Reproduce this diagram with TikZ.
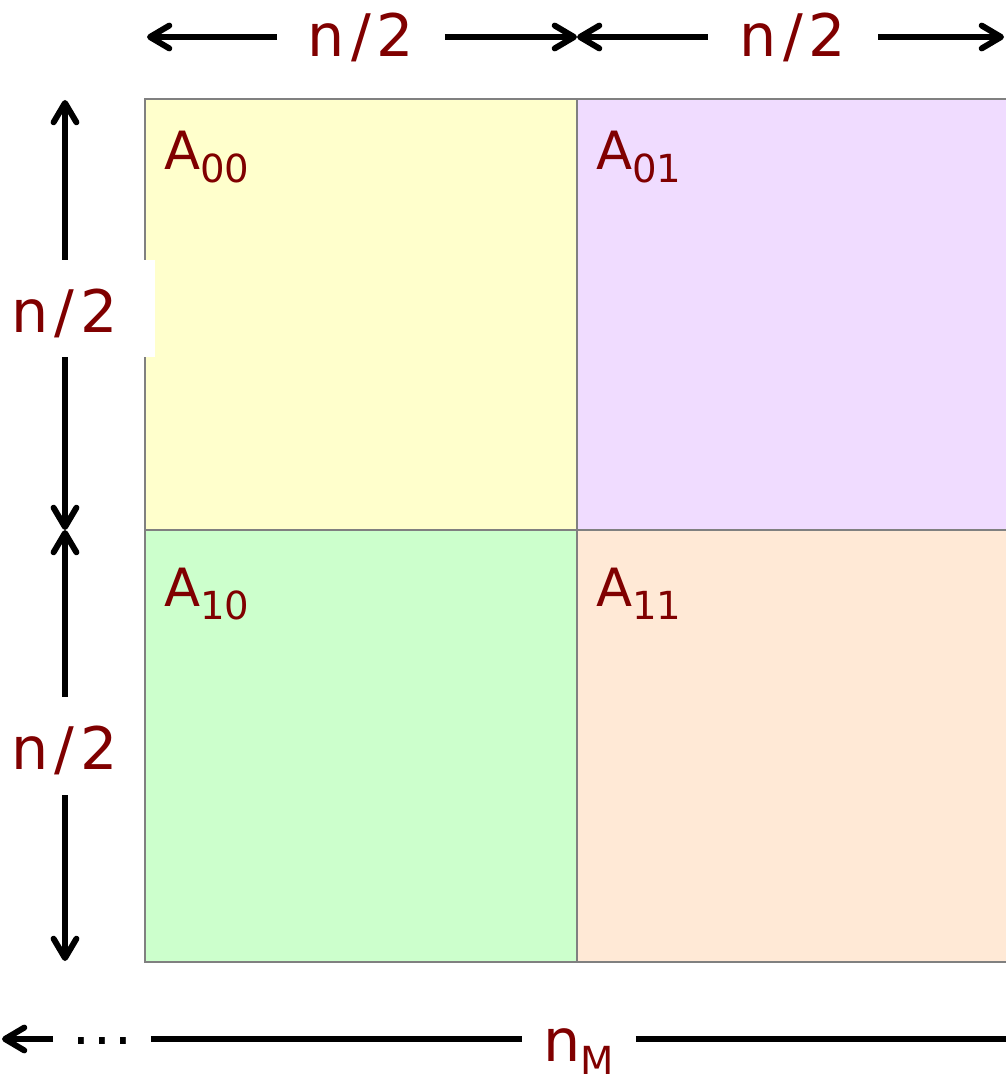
\documentclass[tikz,border=0pt]{standalone}
\usepackage{fontspec}
\setmainfont{DejaVu Sans}
\newfontfamily\dimfont[LetterSpace=10]{DejaVu Sans}
\usetikzlibrary{arrows.meta,positioning,calc}
\definecolor{labelred}{RGB}{128,0,0}
\definecolor{gridgray}{RGB}{128,128,128}
\definecolor{cellyellow}{RGB}{255,255,204}
\definecolor{cellpurple}{RGB}{240,220,255}
\definecolor{cellgreen}{RGB}{204,255,204}
\definecolor{cellorange}{RGB}{255,233,214}
\newcommand{\blocksub}[1]{\raisebox{-7.4pt}{\fontsize{22}{22}\selectfont #1}}

\begin{document}
\begin{tikzpicture}[
  x=0.02cm, y=-0.02cm,
  cell/.style={draw=gridgray, line width=1.1pt, inner sep=0pt, outer sep=0pt, minimum width=8.64cm, minimum height=8.63cm},
  blocklabel/.style={text=labelred, inner sep=0pt, anchor=base west, font=\fontsize{30}{30}\selectfont},
  dimlabel/.style={text=labelred, fill=white, inner sep=0pt, text height=27pt, text depth=0pt, font=\fontsize{33.4}{33.4}\dimfont},
  dimline/.style={line width=3.4pt},
  arr/.style={dimline, -{Straight Barb[length=11pt, width=13pt, round]}}
]
\useasboundingbox (0,0) rectangle (1006,1074);
% the four blocks
\node[cell, fill=cellyellow, anchor=north west] (a00) at (145,99) {};
\node[cell, fill=cellpurple, right=0pt of a00] (a01) {};
\node[cell, fill=cellgreen, below=0pt of a00] (a10) {};
\node[cell, fill=cellorange, right=0pt of a10] (a11) {};
\node[blocklabel] (l00) at ($(a00.north west)+(19,71)$) {A\blocksub{00}};
\node[blocklabel] (l01) at ($(a01.north west)+(19,71)$) {A\blocksub{01}};
\node[blocklabel] (l10) at ($(a10.north west)+(19,76)$) {A\blocksub{10}};
\node[blocklabel] (l11) at ($(a11.north west)+(19,76)$) {A\blocksub{11}};

% top widths
\coordinate (t0) at (147,37);
\coordinate (t1) at (577,37);
\coordinate (t2) at (1004,37);
\node[dimlabel, minimum width=3.34cm, yshift=2.5pt] (wleft) at (361,37) {n/2};
\node[dimlabel, minimum width=3.4cm, yshift=2.5pt] (wright) at (793,37) {n/2};
\draw[arr] (wleft.west |- t0) -- (t0);
\draw[arr] (wleft.east |- t1) -- (t1);
\draw[arr] (wright.west |- t1) -- (t1);
\draw[arr] (wright.east |- t2) -- (t2);

% left heights
\coordinate (v0) at (65,100);
\coordinate (v1) at (65,530);
\coordinate (v2) at (65,961);
\node[dimlabel, minimum width=3.6cm, minimum height=1.94cm] (htop) at (65,308.5) {n/2};
\node[dimlabel, minimum width=2.4cm, minimum height=1.96cm] (hbot) at (65,746) {n/2};
\draw[arr] (htop.north) -- (v0);
\draw[arr] (htop.south) -- (v1);
\draw[arr] (hbot.north) -- (v1);
\draw[arr] (hbot.south) -- (v2);

% bottom width
\coordinate (b0) at (2,1039);
\coordinate (b1) at (1012,1039);
\node[dimlabel, text=black, minimum width=1.94cm, text height=6.5pt, font=\fontsize{32}{32}\selectfont] (dots) at (102,1039) {.\kern1.8pt.\kern1.8pt.};
\node[dimlabel, minimum width=2.26cm, text height=26pt] (nm) at (579,1039) {n\blocksub{M}};
\draw[arr] (dots.west) -- (b0);
\draw[dimline] (dots.east) -- (nm.west);
\draw[dimline] (nm.east) -- (b1);
\end{tikzpicture}
\end{document}
